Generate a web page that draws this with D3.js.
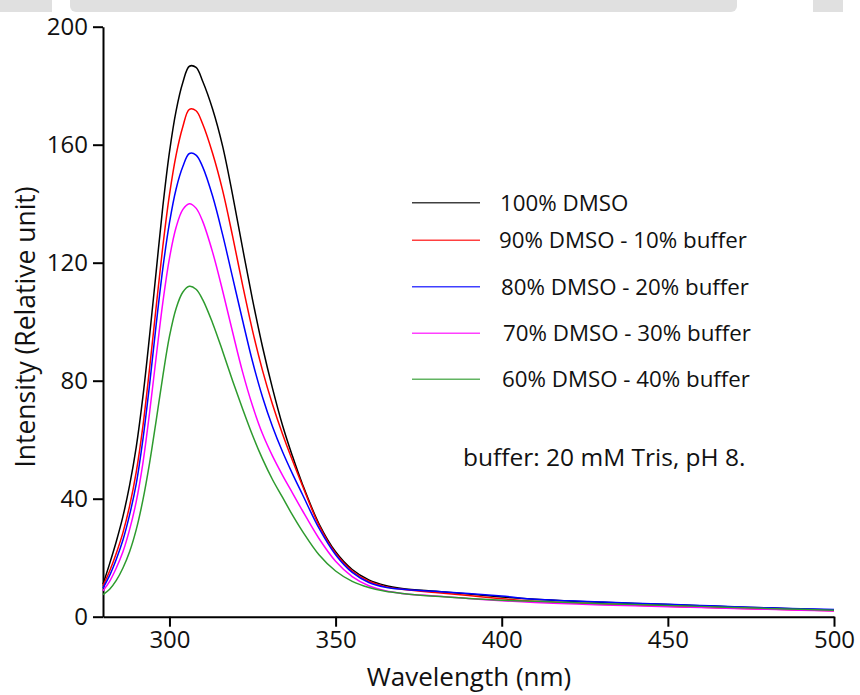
<!DOCTYPE html>
<html>
<head>
<meta charset="utf-8">
<script src="https://cdn.jsdelivr.net/npm/d3@7"></script>
<style>
  body { margin: 0; background: #fff; }
  svg { display: block; font-family: "Open Sans", "DejaVu Sans", sans-serif; }
  .axis path, .axis line { stroke: #000; stroke-width: 2; }
  .axis text { font-size: 24px; fill: #111; font-family: "Open Sans", sans-serif; }
</style>
</head>
<body>
<div id="chart"></div>
<script>
// wavelength grid (nm) and intensities

var wavelength = [280, 282, 284, 286, 288, 290, 292, 294, 296, 298, 300, 302, 304, 306, 308, 310,
  313, 316, 319, 322, 325, 328, 331, 334, 337, 340, 345, 350, 355, 360, 365, 370,
  380, 390, 400, 410, 420, 430, 440, 450, 460, 470, 480, 490, 500];

var dmso100 = [11, 18, 25.5, 34, 44.5, 57.5, 74.5, 95, 117, 139, 157.5, 171.5, 181, 186.6, 186.2, 181.5,
  172, 159.5, 143, 125, 107.5, 91.5, 77.5, 65, 54.5, 45, 31.5, 22, 16, 12.5, 10.6, 9.6,
  8.6, 7.7, 6.7, 5.9, 5.3, 4.9, 4.5, 4.1, 3.7, 3.3, 3.0, 2.6, 2.3];

var dmso90 = [10.5, 15.5, 21.5, 28.5, 37.5, 49, 64.5, 84, 105, 125.5, 143, 156.5, 166, 172, 171.5, 167,
  157, 144.5, 129, 112.5, 97, 83.5, 72, 62, 53, 44.5, 31, 21.5, 15.5, 12, 10.2, 9.3,
  8.2, 7.2, 6.1, 5.2, 4.7, 4.3, 3.9, 3.5, 3.2, 2.9, 2.6, 2.3, 2.0];

var dmso80 = [9.7, 14, 19.5, 26, 34.5, 45, 60, 78.5, 99, 118, 133.5, 145, 152.5, 157, 156.5, 152.5,
  142.5, 129.5, 115, 100.5, 86.5, 74.5, 64.5, 56, 48.5, 41.5, 30, 21, 15, 11.6, 10, 9.3,
  8.6, 7.9, 7.0, 5.9, 5.4, 5.0, 4.6, 4.2, 3.8, 3.4, 3.0, 2.7, 2.4];

var dmso70 = [8.8, 12, 16.5, 22, 29.5, 39, 52, 69, 88, 106.5, 121.5, 132, 138, 140, 138.5, 134,
  123.5, 110.5, 96.5, 83, 71.5, 62, 54.5, 48, 42, 36, 26.5, 18.8, 13.6, 10.5, 8.8, 7.9,
  7.0, 6.2, 5.4, 4.8, 4.4, 4.0, 3.7, 3.4, 3.1, 2.8, 2.5, 2.2, 1.9];

var dmso60 = [7.5, 9.3, 12.3, 16.5, 22, 29.5, 39.5, 52, 66.5, 81.5, 95, 104.5, 110, 112, 111, 107.5,
  99.5, 90, 80, 70.5, 61.5, 53.5, 46.5, 40.5, 34.5, 29, 21, 15.5, 12, 9.9, 8.6, 7.9,
  6.9, 6.2, 5.6, 5.2, 4.8, 4.4, 4.1, 3.8, 3.5, 3.1, 2.8, 2.5, 2.2];

var seriesNames = ["100% DMSO", "90% DMSO - 10% buffer", "80% DMSO - 20% buffer",
  "70% DMSO - 30% buffer", "60% DMSO - 40% buffer"];
var seriesValues = [dmso100, dmso90, dmso80, dmso70, dmso60];
var seriesColors = ["#000000", "#ff0000", "#0000ff", "#ff00ff", "#2e9b2e"];

var xTicks = [300, 350, 400, 450, 500];
var yTicks = [0, 40, 80, 120, 160, 200];

// svg area
var svgWidth = 860;
var svgHeight = 695;

var margin = { top: 26.7, right: 26, bottom: 78.3, left: 103 };
var width = svgWidth - margin.left - margin.right;
var height = svgHeight - margin.top - margin.bottom;

var svg = d3.select("#chart")
  .append("svg")
  .attr("width", svgWidth)
  .attr("height", svgHeight);

// faint grey band left over at the top of the figure
svg.append("rect").attr("x", 0).attr("y", 0).attr("width", 52).attr("height", 12).attr("fill", "#e0e0e0");
svg.append("rect").attr("x", 70).attr("y", -6).attr("width", 667).attr("height", 18).attr("rx", 6).attr("fill", "#e0e0e0");
svg.append("rect").attr("x", 813).attr("y", 0).attr("width", 30).attr("height", 12).attr("fill", "#e0e0e0");

var chartGroup = svg.append("g")
  .attr("transform", `translate(${margin.left}, ${margin.top})`);

// scales
var xLinearScale = d3.scaleLinear()
  .domain([280, 500])
  .range([0, width]);

var yLinearScale = d3.scaleLinear()
  .domain([0, 200])
  .range([height, 0]);

// axes
var bottomAxis = d3.axisBottom(xLinearScale)
  .tickValues(xTicks)
  .tickSizeInner(10)
  .tickSizeOuter(0)
  .tickPadding(4);

var leftAxis = d3.axisLeft(yLinearScale)
  .tickValues(yTicks)
  .tickSizeInner(10)
  .tickSizeOuter(0)
  .tickPadding(5);

chartGroup.append("g")
  .classed("axis", true)
  .attr("transform", `translate(0, ${height})`)
  .call(bottomAxis);

chartGroup.append("g")
  .classed("axis", true)
  .call(leftAxis);

// lines
var line = d3.line()
  .x((d, i) => xLinearScale(wavelength[i]))
  .y(d => yLinearScale(d))
  .curve(d3.curveCatmullRom.alpha(0.5));

chartGroup.selectAll(".spectrum")
  .data(seriesValues)
  .enter()
  .append("path")
  .classed("spectrum", true)
  .attr("d", d => line(d))
  .attr("fill", "none")
  .attr("stroke", (d, i) => seriesColors[i])
  .attr("stroke-width", 1.5);

// legend
var legendRows = [202.7, 240.3, 286.7, 333.3, 379.3];
var legendTextX = [500, 499, 501, 503, 502];

var legend = svg.append("g");

legend.selectAll("line")
  .data(seriesNames)
  .enter()
  .append("line")
  .attr("x1", 412)
  .attr("x2", 480)
  .attr("y1", (d, i) => legendRows[i])
  .attr("y2", (d, i) => legendRows[i])
  .attr("stroke", (d, i) => seriesColors[i])
  .attr("stroke-opacity", 0.75)
  .attr("stroke-width", 1.5);

legend.selectAll("text")
  .data(seriesNames)
  .enter()
  .append("text")
  .attr("x", (d, i) => legendTextX[i])
  .attr("y", (d, i) => legendRows[i] + 8)
  .attr("font-size", 22.3)
  .attr("fill", "#111")
  .text(d => d);

// note
svg.append("text")
  .attr("x", 463)
  .attr("y", 466)
  .attr("font-size", 24.5)
  .attr("fill", "#111")
  .text("buffer: 20 mM Tris, pH 8.");

// axis titles
svg.append("text")
  .attr("x", 469)
  .attr("y", 686)
  .attr("text-anchor", "middle")
  .attr("font-size", 26)
  .attr("fill", "#111")
  .text("Wavelength (nm)");

svg.append("text")
  .attr("transform", "rotate(-90)")
  .attr("x", -327)
  .attr("y", 35)
  .attr("text-anchor", "middle")
  .attr("font-size", 26.5)
  .attr("fill", "#111")
  .text("Intensity (Relative unit)");
</script>
</body>
</html>
